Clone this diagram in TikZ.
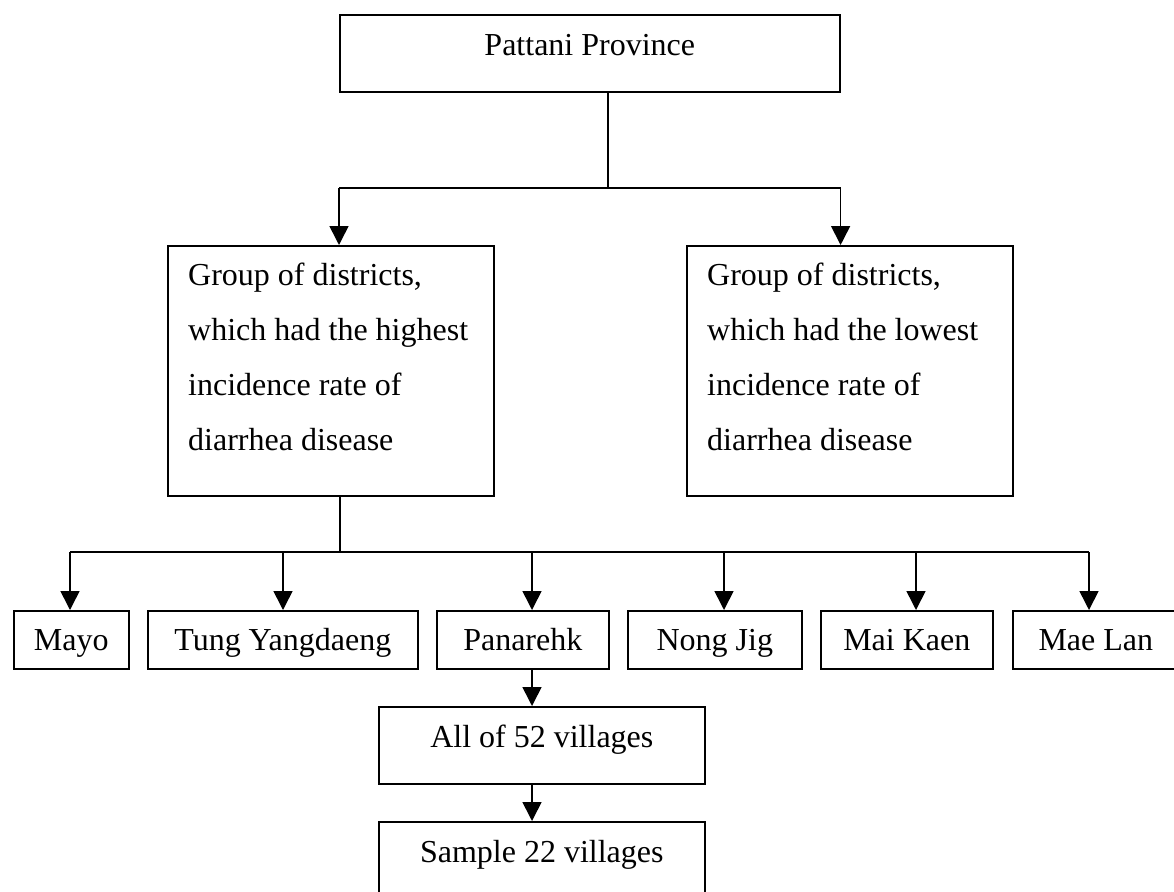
\documentclass[tikz,border=0pt]{standalone}
\usepackage{fontspec}
\setmainfont{Liberation Serif}
\usetikzlibrary{arrows.meta}
\begin{document}
\begin{tikzpicture}[x=1pt,y=-1pt,
  box/.style={draw, line width=1.6pt, inner sep=0pt, anchor=north west, font=\fontsize{32}{38}\selectfont},
  tall/.style={box, minimum height=77pt, text height=22pt, text depth=17pt},
  low/.style={box, minimum height=58pt, text height=22pt, text depth=0pt},
  big/.style={draw, line width=1.6pt, inner sep=0pt, anchor=north west, minimum width=326pt, minimum height=250pt},
  conn/.style={line width=1.6pt},
  arr/.style={line width=1.6pt, -{Triangle[width=19pt,length=19pt]}},
  txt/.style={anchor=base west, inner sep=0pt, font=\fontsize{32}{38}\selectfont}]
\useasboundingbox (0,0) rectangle (1174,891);
\clip (0,0) rectangle (1174,891);

% top
\node[tall, minimum width=500pt] (top) at (339,14) {Pattani Province};

% group boxes
\node[big] (lbox) at (167,245) {};
\node[big] (rbox) at (686,245) {};
\node[txt] (l1) at (188,285) {Group of districts,};
\node[txt] (l2) at (188,340) {which had the highest};
\node[txt] (l3) at (188,395) {incidence rate of};
\node[txt] (l4) at (188,450) {diarrhea disease};
\node[txt] (r1) at (707,285) {Group of districts,};
\node[txt] (r2) at (707,340) {which had the lowest};
\node[txt] (r3) at (707,395) {incidence rate of};
\node[txt] (r4) at (707,450) {diarrhea disease};

% districts
\node[low, minimum width=115pt] (b1) at (13,610) {Mayo};
\node[low, minimum width=270pt] (b2) at (147,610) {Tung Yangdaeng};
\node[low, minimum width=172pt] (b3) at (436,610) {Panarehk};
\node[low, minimum width=174pt] (b4) at (627,610) {Nong Jig};
\node[low, minimum width=172pt] (b5) at (820,610) {Mai Kaen};
\node[low, minimum width=166pt] (b6) at (1012,610) {Mae Lan};

% villages
\node[tall, minimum width=326pt] (v1) at (378,706) {All of 52 villages};
\node[tall, minimum width=326pt] (v2) at (378,821) {Sample 22 villages};

% connectors top
\coordinate (j1) at (608,188);
\draw[conn] (top.south -| j1) -- (j1);
\draw[conn] (top.south west |- j1) -- (top.south east |- j1);
\draw[arr] (top.south west |- j1) -- (top.south west |- lbox.north);
\draw[arr] (top.south east |- j1) -- (top.south east |- rbox.north);

% connectors districts
\coordinate (j2) at (340,552);
\coordinate (a1) at (70,552);
\coordinate (a2) at (283,552);
\coordinate (a3) at (532,552);
\coordinate (a4) at (724,552);
\coordinate (a5) at (916,552);
\coordinate (a6) at (1089,552);
\draw[conn] (lbox.south -| j2) -- (j2);
\draw[conn] (a1) -- (a6);
\draw[arr] (a1) -- (a1 |- b1.north);
\draw[arr] (a2) -- (a2 |- b2.north);
\draw[arr] (a3) -- (a3 |- b3.north);
\draw[arr] (a4) -- (a4 |- b4.north);
\draw[arr] (a5) -- (a5 |- b5.north);
\draw[arr] (a6) -- (a6 |- b6.north);

% villages connectors
\draw[arr] (b3.south -| a3) -- (a3 |- v1.north);
\draw[arr] (v1.south -| a3) -- (a3 |- v2.north);
\end{tikzpicture}
\end{document}
